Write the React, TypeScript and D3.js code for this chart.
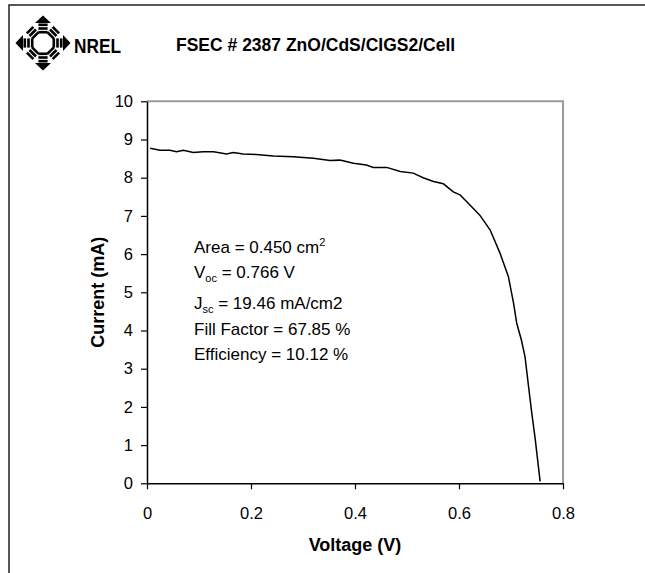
import React, { useEffect, useRef } from 'react';
import * as d3 from 'd3';

// I-V curve
const voltage = [0.006, 0.025, 0.044, 0.057, 0.07, 0.089, 0.108, 0.128, 0.153, 0.166, 0.185, 0.21, 0.243, 0.281, 0.32, 0.352, 0.371, 0.397, 0.422, 0.435, 0.461, 0.487, 0.512, 0.531, 0.551, 0.57, 0.589, 0.602, 0.615, 0.64, 0.66, 0.679, 0.695, 0.705, 0.711, 0.72, 0.727, 0.733, 0.74, 0.746, 0.756];
const current = [8.77, 8.72, 8.72, 8.68, 8.72, 8.66, 8.68, 8.68, 8.62, 8.66, 8.62, 8.61, 8.57, 8.55, 8.51, 8.45, 8.46, 8.38, 8.33, 8.27, 8.27, 8.16, 8.12, 8.0, 7.9, 7.84, 7.63, 7.55, 7.37, 7.02, 6.63, 6.02, 5.41, 4.71, 4.19, 3.75, 3.31, 2.62, 1.83, 1.22, 0.05];

const xTicks = [0, 0.2, 0.4, 0.6, 0.8];
const yTicks = [0, 1, 2, 3, 4, 5, 6, 7, 8, 9, 10];

const chartTitle = 'FSEC # 2387 ZnO/CdS/CIGS2/Cell';
const xTitle = 'Voltage (V)';
const yTitle = 'Current (mA)';

// each line: [text, kind] pieces, kind '' | 'sub' | 'sup'
const statLines = [
  [['Area = 0.450 cm', ''], ['2', 'sup']],
  [['V', ''], ['oc', 'sub'], [' = 0.766 V', '']],
  [['J', ''], ['sc', 'sub'], [' = 19.46 mA/cm2', '']],
  [['Fill Factor = 67.85 %', '']],
  [['Efficiency = 10.12 %', '']],
];
const statBaselines = [253, 278, 309, 335, 360];

const FONT = '"Liberation Sans", Arial, sans-serif';

const Logo = () => {
  const segs = d3.range(8).map(i => i * 45);
  return (
    <g transform="translate(43,43)">
      {segs.map(a => (
        <g key={a} transform={`rotate(${a})`}>
          <rect x={-4.6} y={-19.5} width={9.2} height={2.6} fill="#000" />
          <rect x={-4.6} y={-15.8} width={9.2} height={2.6} fill="#000" />
          <rect x={-4.6} y={-12.1} width={9.2} height={2.6} fill="#000" />
          {a % 90 === 0 && <path d="M-8,-20 L0,-27.5 L8,-20 Z" fill="#000" />}
        </g>
      ))}
    </g>
  );
};

const App = () => {
  const svgRef = useRef<SVGSVGElement>(null);

  useEffect(() => {
    const svg = d3.select(svgRef.current);
    svg.selectAll('g.plot').remove();

    const left = 147, right = 563, top = 101.3, bottom = 483.3;

    const x = d3.scaleLinear().domain([0, 0.8]).range([left, right]);
    const y = d3.scaleLinear().domain([0, 10]).range([bottom, top]);

    const g = svg.append('g').attr('class', 'plot');

    // gray frame top / right
    g.append('path')
      .attr('d', `M${left},${top}H${right}V${bottom}`)
      .attr('fill', 'none')
      .attr('stroke', '#9a9a9a')
      .attr('stroke-width', 2);

    const xAxis = g.append('g')
      .attr('transform', `translate(0,${bottom})`)
      .call(d3.axisBottom(x).tickValues(xTicks).tickSize(6).tickSizeOuter(0).tickPadding(18).tickFormat(d3.format('')));

    const yAxis = g.append('g')
      .attr('transform', `translate(${left},0)`)
      .call(d3.axisLeft(y).tickValues(yTicks).tickSize(6).tickSizeOuter(0).tickPadding(8));

    [xAxis, yAxis].forEach(ax => {
      ax.select('.domain').attr('stroke', '#000').attr('stroke-width', 1.5);
      ax.selectAll('.tick line').attr('stroke', '#000').attr('stroke-width', 1.2);
      ax.selectAll('.tick text')
        .attr('fill', '#000')
        .style('font-family', FONT)
        .style('font-size', '16.5px');
    });

    const line = d3.line<number>()
      .x((d, i) => x(voltage[i]))
      .y(d => y(d));

    g.append('path')
      .datum(current)
      .attr('fill', 'none')
      .attr('stroke', '#000')
      .attr('stroke-width', 1.5)
      .attr('d', line);

    g.append('text')
      .attr('x', (left + right) / 2)
      .attr('y', 551)
      .attr('text-anchor', 'middle')
      .style('font-family', FONT)
      .style('font-weight', 'bold')
      .style('font-size', '18px')
      .text(xTitle);

    g.append('text')
      .attr('transform', `translate(103.5,${(top + bottom) / 2}) rotate(-90)`)
      .attr('text-anchor', 'middle')
      .style('font-family', FONT)
      .style('font-weight', 'bold')
      .style('font-size', '18px')
      .text(yTitle);

    const stats = g.append('g').style('font-family', FONT).style('font-size', '17px');
    statLines.forEach((parts, i) => {
      const t = stats.append('text').attr('x', 194).attr('y', statBaselines[i]);
      let shift = 0;
      parts.forEach(([txt, kind]) => {
        const target = kind === 'sub' ? 4 : kind === 'sup' ? -7 : 0;
        t.append('tspan')
          .attr('dy', target - shift)
          .style('font-size', kind ? '11px' : '17px')
          .text(txt);
        shift = target;
      });
    });
  }, []);

  return (
    <svg ref={svgRef} width={645} height={573}
      style={{ position: 'absolute', left: 0, top: 0, background: '#fff' }}>
      <rect width={645} height={573} fill="#fff" />
      <path d="M9,580V5H650" fill="none" stroke="#222" strokeWidth={1.5} />
      <Logo />
      <text x={74} y={53} fontFamily={FONT} fontWeight="900" fontSize={20}
        textLength={47} lengthAdjust="spacingAndGlyphs">NREL</text>
      <text x={176} y={51} fontFamily={FONT} fontWeight="bold" fontSize={17.5}>{chartTitle}</text>
    </svg>
  );
};

export default App;
